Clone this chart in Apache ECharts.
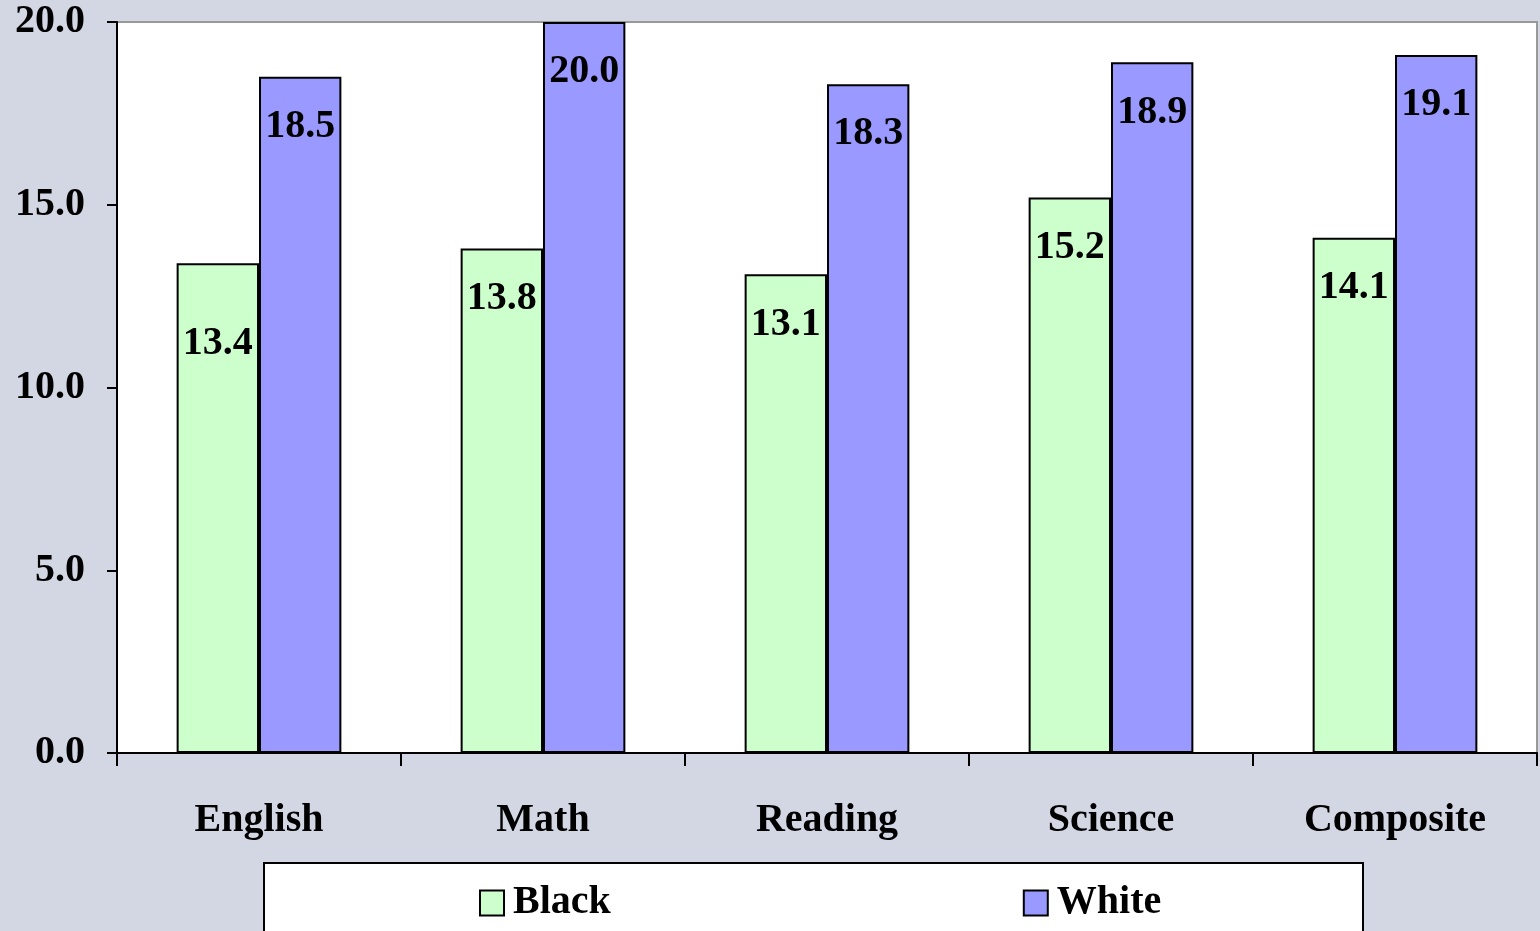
<!DOCTYPE html>
<html><head><meta charset="utf-8">
<script src="https://cdn.jsdelivr.net/npm/echarts@6/dist/echarts.min.js"></script>
<style>html,body{margin:0;padding:0;background:#d3d7e3;}#c{width:1540px;height:931px;}</style>
</head><body><div id="c"></div>
<script>
const categories = ['English', 'Math', 'Reading', 'Science', 'Composite'];
const blackScores = [13.4, 13.8, 13.1, 15.2, 14.1];
const whiteScores = [18.5, 20.0, 18.3, 18.9, 19.1];
const yTicks = [0, 5, 10, 15, 20];

const font = '"Liberation Serif", "Times New Roman", serif';
const chart = echarts.init(document.getElementById('c'));
const labelBase = {
  show: true, position: 'insideTop', distance: 30, color: '#000',
  fontFamily: font, fontWeight: 'bold', fontSize: 40,
  formatter: p => p.value.toFixed(1)
};
chart.setOption({
  backgroundColor: '#d3d7e3',
  animation: false,
  grid: { left: 117, right: 3, top: 22, bottom: 178, show: true, backgroundColor: '#fff', borderColor: '#999', borderWidth: 2 },
  graphic: [{ type: 'rect', left: 263, top: 862, shape: { width: 1099, height: 80 }, style: { fill: '#fff', stroke: '#000', lineWidth: 2 }, z: 0 }],
  legend: {
    left: 474, top: 878, itemWidth: 24, itemHeight: 25, itemGap: 412, icon: 'rect',
    textStyle: { fontFamily: font, fontWeight: 'bold', fontSize: 40, color: '#000', padding: [0, 0, 0, 4] },
    data: ['Black', 'White'], z: 5
  },
  xAxis: {
    type: 'category', data: categories,
    axisLine: { lineStyle: { color: '#000', width: 2 } },
    axisTick: { show: true, length: 13, lineStyle: { color: '#000', width: 2 } },
    axisLabel: { margin: 48, color: '#000', fontFamily: font, fontWeight: 'bold', fontSize: 40 }
  },
  yAxis: {
    type: 'value', min: 0, max: 20, interval: 5,
    axisLine: { show: true, lineStyle: { color: '#000', width: 2 } },
    axisTick: { show: true, inside: false, length: 10, lineStyle: { color: '#000', width: 2 } },
    splitLine: { show: false },
    axisLabel: { margin: 32, color: '#000', fontFamily: font, fontWeight: 'bold', fontSize: 40, padding: [14, 0, 0, 0],
      formatter: v => yTicks.includes(v) ? v.toFixed(1) : '' }
  },
  series: [
    { name: 'Black', type: 'bar', barGap: '0%', barCategoryGap: '42%',
      itemStyle: { color: '#ccffcc', borderColor: '#000', borderWidth: 2 },
      label: labelBase,
      data: blackScores.map((v, i) => i === 0 ? { value: v, label: { distance: 60 } } : v) },
    { name: 'White', type: 'bar',
      itemStyle: { color: '#9999ff', borderColor: '#000', borderWidth: 2 },
      label: labelBase,
      data: whiteScores }
  ]
});
</script></body></html>
